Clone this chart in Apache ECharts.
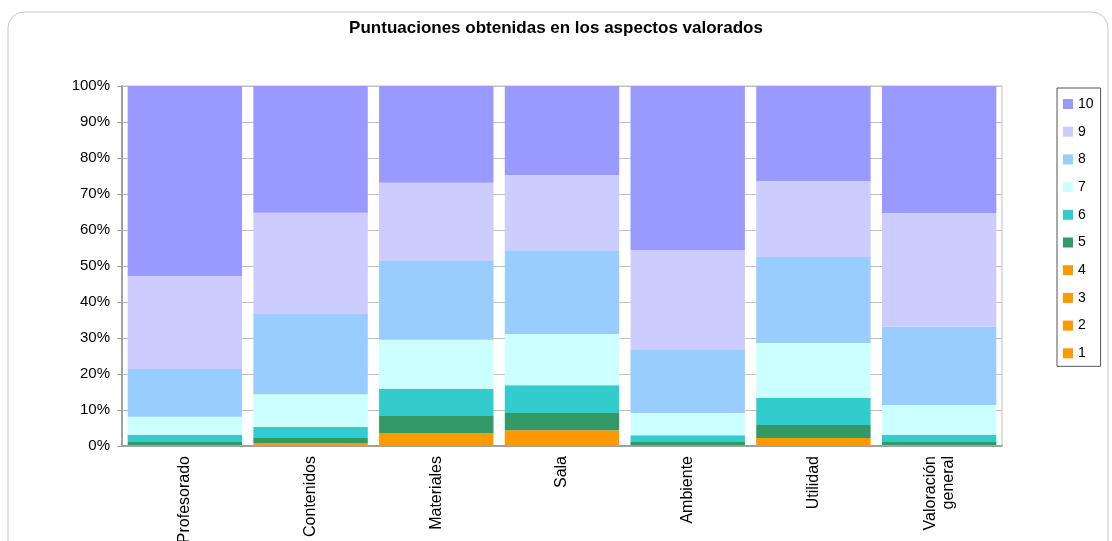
<!DOCTYPE html>
<html>
<head>
<meta charset="utf-8">
<script src="https://cdn.jsdelivr.net/npm/echarts@6/dist/echarts.min.js"></script>
<style>
  html, body { margin: 0; padding: 0; background: #fff; }
  #chart { width: 1112px; height: 541px; }
</style>
</head>
<body>
<div id="chart"></div>
<script>
// categorías (eje x)
const categorias = ['Profesorado', 'Contenidos', 'Materiales', 'Sala', 'Ambiente', 'Utilidad', 'Valoración\ngeneral'];
// porcentaje de cada puntuación por aspecto (1-4 tienen el mismo color, no se distinguen)
const p1 = [0, 0, 0, 0, 0, 0, 0];
const p2 = [0, 0, 0, 0, 0, 0, 0];
const p3 = [0, 0, 0, 0, 0, 0, 0];
const p4 = [0.3, 0.8, 3.6, 4.4, 0.2, 2.2, 0.3];
const p5 = [0.8, 1.4, 4.7, 4.8, 0.9, 3.6, 0.8];
const p6 = [2.0, 3.1, 7.5, 7.7, 1.9, 7.5, 2.0];
const p7 = [5.0, 9.1, 13.7, 14.2, 6.2, 15.3, 8.3];
const p8 = [13.3, 22.3, 21.9, 23.3, 17.7, 23.9, 21.7];
const p9 = [25.8, 28.1, 21.7, 20.9, 27.5, 21.1, 31.6];
const p10 = [52.8, 35.2, 26.9, 24.7, 45.6, 26.4, 35.3];
const ticksY = [0, 10, 20, 30, 40, 50, 60, 70, 80, 90, 100];

const puntos = ['1', '2', '3', '4', '5', '6', '7', '8', '9', '10'];
const valores = [p1, p2, p3, p4, p5, p6, p7, p8, p9, p10];
const colores = ['#FF9900', '#FF9900', '#FF9900', '#FF9900', '#339966', '#33CCCC', '#CCFFFF', '#99CCFF', '#CCCCFF', '#9999FF'];

const fuente = 'Liberation Sans, Arial, sans-serif';
const chart = echarts.init(document.getElementById('chart'));

const option = {
  animation: false,
  backgroundColor: '#fff',
  title: {
    text: 'Puntuaciones obtenidas en los aspectos valorados',
    left: 'center',
    top: 15,
    textStyle: { fontFamily: fuente, fontSize: 17, fontWeight: 'bold', color: '#000' }
  },
  graphic: [{
    type: 'rect',
    shape: { x: 8, y: 12, width: 1100, height: 560, r: 16 },
    style: { fill: 'none', stroke: '#c8c8c8', lineWidth: 1 },
    z: -1
  }],
  legend: {
    orient: 'vertical',
    left: 1057,
    top: 88,
    data: puntos.slice().reverse(),
    icon: 'rect',
    itemWidth: 10,
    itemHeight: 10,
    itemGap: 13.7,
    padding: [9, 7, 6, 6],
    borderColor: '#555',
    borderWidth: 1,
    textStyle: { fontFamily: fuente, fontSize: 14, color: '#000' }
  },
  grid: {
    left: 122,
    right: 110,
    top: 86,
    bottom: 95,
    outerBoundsMode: 'none',
    show: true,
    borderColor: '#c0c0c0',
    borderWidth: 1
  },
  xAxis: {
    type: 'category',
    data: categorias,
    axisLine: { lineStyle: { color: '#a0a0a0', width: 2 } },
    axisTick: { show: false },
    axisLabel: {
      rotate: 90,
      margin: 10,
      interval: 0,
      fontFamily: fuente,
      fontSize: 16,
      color: '#000',
      lineHeight: 18
    }
  },
  yAxis: {
    type: 'value',
    min: ticksY[0],
    max: ticksY[ticksY.length - 1],
    interval: 10,
    axisLine: { show: true, lineStyle: { color: '#a0a0a0', width: 2 } },
    axisTick: { show: true, length: 5, lineStyle: { color: '#a0a0a0' } },
    splitLine: { lineStyle: { color: '#c0c0c0' } },
    axisLabel: {
      formatter: '{value}%',
      margin: 12,
      fontFamily: fuente,
      fontSize: 15,
      color: '#000'
    }
  },
  series: puntos.map((p, i) => ({
    name: p,
    type: 'bar',
    stack: 'total',
    barCategoryGap: '9%',
    itemStyle: { color: colores[i] },
    data: valores[i]
  }))
};
chart.setOption(option);
</script>
</body>
</html>
